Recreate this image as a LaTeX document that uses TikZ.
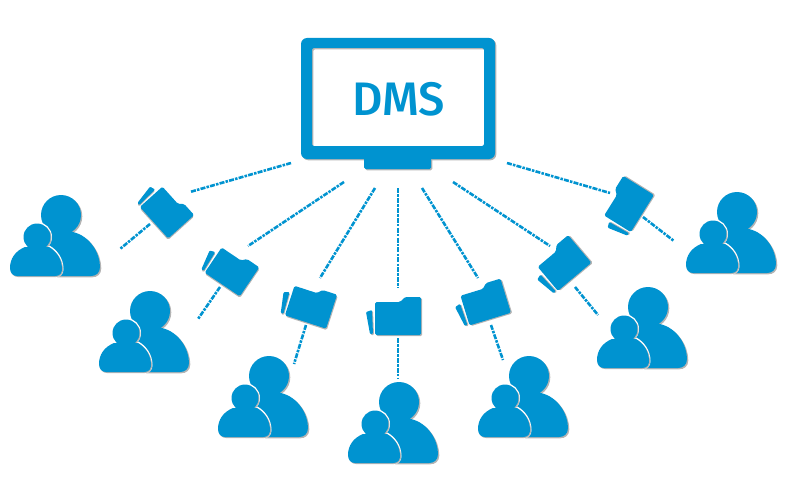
\documentclass[tikz,border=0pt]{standalone}
\usepackage{fontspec}
\setmainfont{Fira Sans}
\newfontfamily\dmsfont{Fira Sans Medium}
\definecolor{dmsblue}{HTML}{0093D0}
\definecolor{dmsshadow}{HTML}{B4B4B4}
\tikzset{
  x=1pt,y=-1pt,
  link/.style={draw=dmsblue,line width=2.6pt,dash pattern=on 5pt off 1.2pt on 2.5pt off 1.2pt},
  shade layer/.style={fill=dmsshadow,draw=none},
  icon fill/.style={fill=dmsblue,draw=none},
  halo/.style={fill=white,draw=white,line width=3pt},
  person/.pic={
    \def\bighead{(0,0) circle[radius=20]}
    \def\bigbody{(12,17) .. controls (29,21) and (39,38) .. (39,52)
      .. controls (39,58) and (35,61) .. (30,61) -- (-5,61) -- (-14,40) -- (-13,15) -- cycle}
    \def\smallhead{(-24,22) circle[radius=13.5]}
    \def\smallbody{(-36,32) .. controls (-46,36) and (-51,44) .. (-51,53)
      .. controls (-51,58) and (-48,61) .. (-44,61) -- (-6,61)
      .. controls (-1,61) and (1,58) .. (1,54)
      .. controls (1,44) and (-5,36) .. (-12,32) -- cycle}
    \path[shade layer,shift={(1.3,1.3)}] \bighead;
    \path[shade layer,shift={(1.3,1.3)}] \bigbody;
    \path[icon fill] \bighead;
    \path[icon fill] \bigbody;
    \path[halo] \smallhead;
    \path[halo] \smallbody;
    \path[shade layer,shift={(1,1)}] \smallhead;
    \path[shade layer,shift={(1,1)}] \smallbody;
    \path[icon fill] \smallhead;
    \path[icon fill] \smallbody;
  },
  folder/.pic={
    \def\frontpart{[rounded corners=1.5pt] (-23,-14) -- (2,-14) -- (7,-19) -- (23,-19) -- (23,19) -- (-23,19) -- cycle}
    \def\leafpart{[rounded corners=1pt] (-32,-4) -- (-26,-6) -- (-25,18) -- (-28,18) -- cycle}
    \path[shade layer,shift={(1,1)}] \leafpart;
    \path[icon fill] \leafpart;
    \path[shade layer,shift={(1.2,1.2)}] \frontpart;
    \path[icon fill] \frontpart;
  },
}
\begin{document}
\begin{tikzpicture}
\useasboundingbox (0,0) rectangle (800,500);
% monitor
\def\screenpath{[rounded corners=6pt] (301,38) rectangle (495,159) [rounded corners=2pt] (312,48) rectangle (484,146)}
\def\standpath{[rounded corners=1.5pt] (364,155) -- (431,155) -- (431,169) -- (364,169) -- cycle}
\path[shade layer,even odd rule,shift={(1.3,1.3)}] \screenpath;
\path[shade layer,shift={(1.3,1.3)}] \standpath;
\path[icon fill] \standpath;
\path[icon fill,even odd rule] \screenpath;
\node[text=dmsblue,font=\dmsfont\fontsize{47}{47}\selectfont,inner sep=0pt] (dms) at (399,99) {DMS};
% connector ends
\coordinate (m1) at (291,163); \coordinate (f1a) at (190,192);
\coordinate (f1b) at (150,224); \coordinate (p1) at (120,249);
\coordinate (m2) at (344,182); \coordinate (f2a) at (248,246);
\coordinate (f2b) at (220,287); \coordinate (p2) at (198,319);
\coordinate (m3) at (375,188); \coordinate (f3a) at (320,278);
\coordinate (f3b) at (306,325); \coordinate (p3) at (294,364);
\coordinate (m4) at (398,188); \coordinate (f4a) at (398,288);
\coordinate (f4b) at (398,338); \coordinate (p4) at (398,378);
\coordinate (m5) at (422,188); \coordinate (f5a) at (478,278);
\coordinate (f5b) at (491,325); \coordinate (p5) at (503,360);
\coordinate (m6) at (453,182); \coordinate (f6a) at (550,246);
\coordinate (f6b) at (575,287); \coordinate (p6) at (598,315);
\coordinate (m7) at (507,163); \coordinate (f7a) at (610,193);
\coordinate (f7b) at (643,217); \coordinate (p7) at (674,241);
\foreach \a/\b in {m1/f1a,f1b/p1,m2/f2a,f2b/p2,m3/f3a,f3b/p3,m4/f4a,f4b/p4,m5/f5a,f5b/p5,m6/f6a,f6b/p6,m7/f7a,f7b/p7}
  \draw[link] (\a) -- (\b);
% folders
\pic[rotate=-48,scale=.92] at (167,211) {folder};
\pic[rotate=-34,scale=.92] at (232,270) {folder};
\pic[rotate=-18,scale=.94] at (311,305) {folder};
\pic at (398,316) {folder};
\pic[rotate=17,scale=.94] at (485,302) {folder};
\pic[rotate=40,scale=.95] at (563,263) {folder};
\pic[rotate=58,scale=.95] at (627,204) {folder};
% people
\pic at (61,215) {person};
\pic at (150,311) {person};
\pic at (269,376) {person};
\pic at (399,402) {person};
\pic at (529,376) {person};
\pic at (648,307) {person};
\pic at (737,212) {person};
\end{tikzpicture}
\end{document}
